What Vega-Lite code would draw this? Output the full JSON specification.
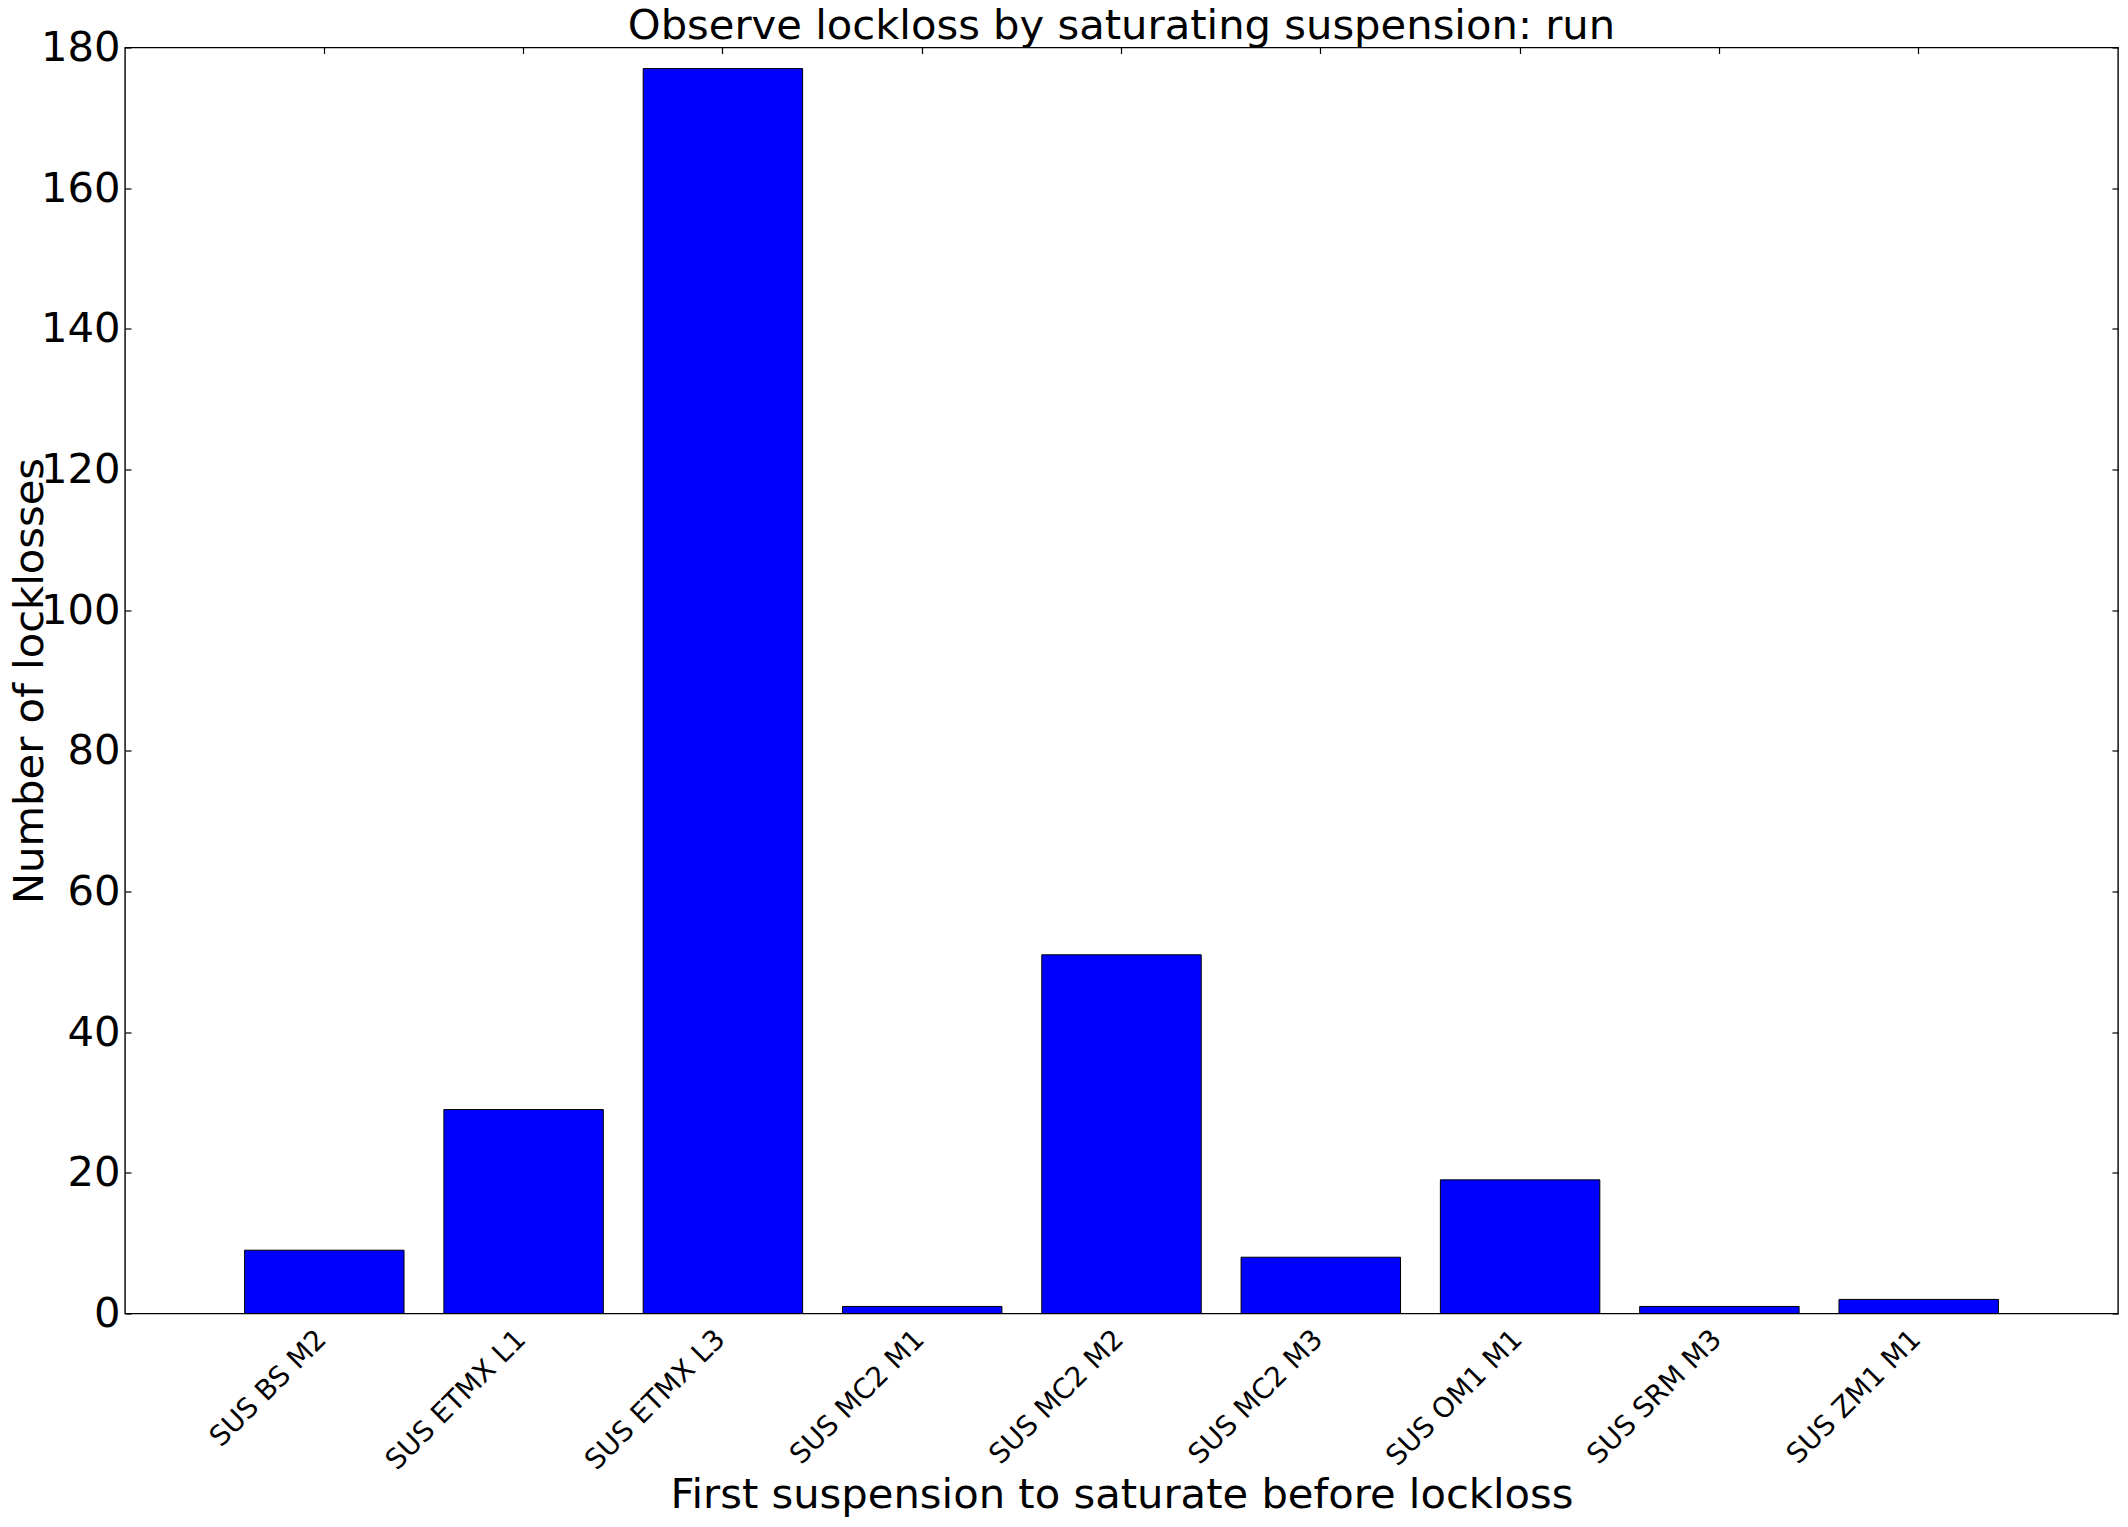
{
  "$schema": "https://vega.github.io/schema/vega-lite/v6.json",
  "width": 1993,
  "height": 1266,
  "autosize": {"type": "none"},
  "padding": {"left": 125, "top": 47.5, "right": 10, "bottom": 213},
  "background": "white",
  "config": {
    "font": "DejaVu Sans",
    "view": {"stroke": "black", "strokeWidth": 1.4},
    "axis": {
      "domain": false,
      "grid": false,
      "tickColor": "black",
      "tickSize": -6,
      "tickWidth": 1.2,
      "labelColor": "black",
      "titleColor": "black",
      "labelFont": "DejaVu Sans",
      "titleFont": "DejaVu Sans",
      "titleFontWeight": "normal",
      "labelLimit": 0
    }
  },
  "title": {
    "text": "Observe lockloss by saturating suspension: run",
    "font": "DejaVu Sans",
    "fontSize": 41.7,
    "fontWeight": "normal",
    "color": "black",
    "anchor": "middle",
    "baseline": "alphabetic",
    "offset": -53
  },
  "data": {
    "values": [
      {"suspension": "SUS BS M2", "count": 9},
      {"suspension": "SUS ETMX L1", "count": 29},
      {"suspension": "SUS ETMX L3", "count": 177},
      {"suspension": "SUS MC2 M1", "count": 1},
      {"suspension": "SUS MC2 M2", "count": 51},
      {"suspension": "SUS MC2 M3", "count": 8},
      {"suspension": "SUS OM1 M1", "count": 19},
      {"suspension": "SUS SRM M3", "count": 1},
      {"suspension": "SUS ZM1 M1", "count": 2}
    ]
  },
  "layer": [
    {
      "mark": {"type": "bar", "color": "#0000ff", "stroke": "black", "strokeWidth": 1},
      "encoding": {
        "x": {
          "field": "suspension",
          "type": "nominal",
          "sort": null,
          "scale": {"paddingInner": 0.2, "paddingOuter": 0.6},
          "axis": {
            "orient": "bottom",
            "labelAngle": -45,
            "labelAlign": "right",
            "labelBaseline": "top",
            "labelFontSize": 27.8,
            "labelPadding": 17.5,
            "labelOffset": -12,
            "title": "First suspension to saturate before lockloss",
            "titleFontSize": 41.7,
            "titleX": 996.5,
            "titleY": 193.5,
            "titleBaseline": "alphabetic",
            "titleAlign": "center"
          }
        },
        "y": {
          "field": "count",
          "type": "quantitative",
          "scale": {"domain": [0, 180], "nice": false},
          "axis": {
            "orient": "left",
            "values": [0, 20, 40, 60, 80, 100, 120, 140, 160, 180],
            "labelFontSize": 41.7,
            "labelPadding": 11,
            "title": "Number of locklosses",
            "titleFontSize": 41.7,
            "titleAngle": -90,
            "titleX": -83,
            "titleY": 633,
            "titleBaseline": "alphabetic",
            "titleAlign": "center"
          }
        }
      }
    },
    {
      "mark": {"type": "bar", "opacity": 0},
      "encoding": {
        "x": {
          "field": "suspension",
          "type": "nominal",
          "sort": null,
          "axis": {"orient": "top", "labels": false, "title": null}
        },
        "y": {
          "field": "count",
          "type": "quantitative",
          "axis": {"orient": "right", "labels": false, "title": null, "values": [0, 20, 40, 60, 80, 100, 120, 140, 160, 180]}
        }
      }
    }
  ],
  "resolve": {"axis": {"x": "independent", "y": "independent"}}
}
